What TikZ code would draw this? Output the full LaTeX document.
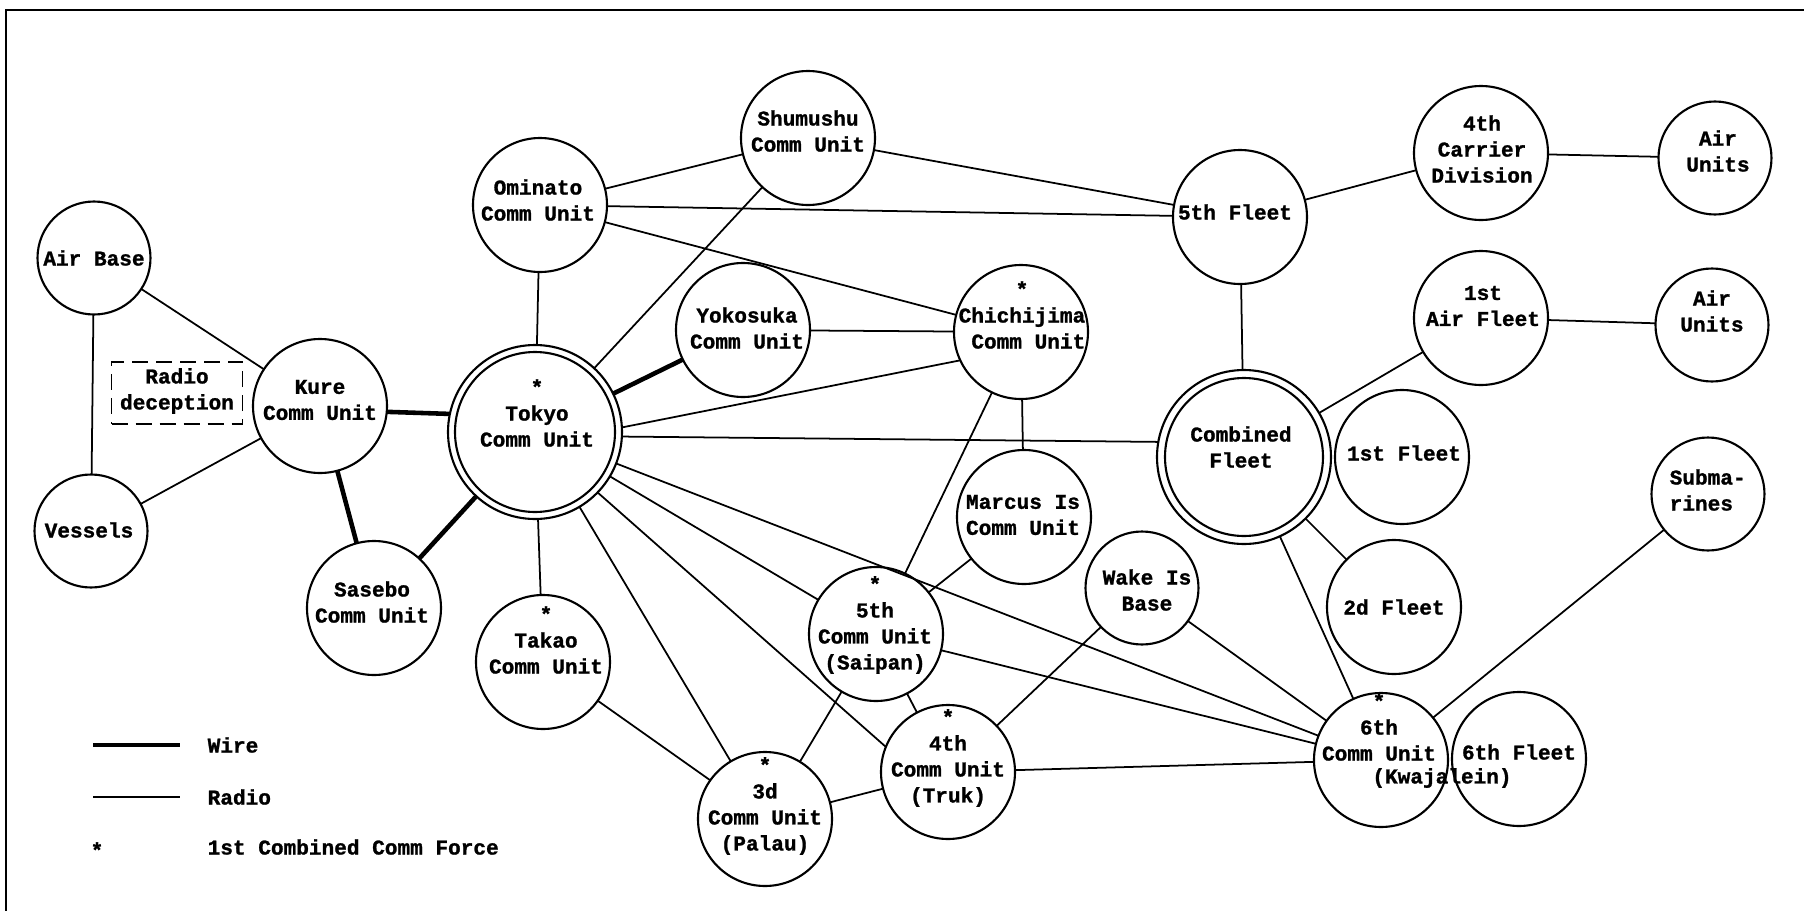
\documentclass[tikz,border=0pt]{standalone}
\usepackage{fontspec}
\setmainfont{Liberation Mono}[BoldFeatures={FakeBold=1.2}]
\begin{document}
\begin{tikzpicture}[x=0.1mm,y=-0.1mm,
  unit/.style={circle,draw,line width=0.6pt,inner sep=0pt,outer sep=0pt,minimum size=13.4mm},
  small/.style={unit,minimum size=11.3mm},
  big/.style={unit,minimum size=17.4mm},
  txt/.style={font=\fontsize{6}{7.4}\selectfont\bfseries,align=center,inner sep=0pt},
  radio/.style={line width=0.5pt},
  wire/.style={line width=1.3pt}]
\useasboundingbox (0,0) rectangle (1804,911);
% frame
\coordinate (f1) at (6,911);
\coordinate (f2) at (6,10);
\coordinate (f3) at (1804,10);
\draw[line width=0.6pt] (f1) -- (f2) -- (f3);

% circles
\node[small] (airbase) at (94,258) {};
\node[small] (vessels) at (91,531) {};
\node[draw,dashed,dash pattern=on 1.6mm off 0.8mm,line width=0.5pt,minimum width=13.1mm,minimum height=6.2mm,inner sep=0pt] (radiobox) at (177,393) {};
\node[unit] (kure) at (320,406) {};
\node[unit] (sasebo) at (374,608) {};
\node[big] (tokyo) at (535,432) {};
\draw[line width=0.6pt] (tokyo.center) circle[radius=80];
\node[unit] (ominato) at (540,205) {};
\node[unit] (shumushu) at (808,138) {};
\node[unit] (yokosuka) at (743,330) {};
\node[unit] (takao) at (543,662) {};
\node[unit] (chichi) at (1021,332) {};
\node[unit] (marcus) at (1024,517) {};
\node[unit] (saipan) at (876,634) {};
\node[unit] (truk) at (948,772) {};
\node[unit] (palau) at (765,819) {};
\node[small] (wake) at (1142,588) {};
\node[unit] (fifthfleet) at (1240,217) {};
\node[big] (cf) at (1244,457) {};
\draw[line width=0.6pt] (cf.center) circle[radius=79];
\node[unit] (carrier) at (1481,153) {};
\node[small] (airunitsa) at (1715,158) {};
\node[unit] (airfleet) at (1481,318) {};
\node[small] (airunitsb) at (1712,325) {};
\node[unit] (firstfleet) at (1402,457) {};
\node[unit] (secondfleet) at (1394,607) {};
\node[small] (subs) at (1708,494) {};
\node[unit] (kwaj) at (1381,760) {};
\node[unit] (sixthfleet) at (1519,759) {};

% texts
\node[txt] (tairbase) at (94,258) {Air Base};
\node[txt] (tvessels) at (89,530) {Vessels};
\node[txt] (tradio) at (177,391) {Radio\\deception};
\node[txt] (tkure) at (320,400) {Kure\\Comm Unit};
\node[txt] (tsasebo) at (372,602) {Sasebo\\Comm Unit};
\node[txt] (ttokyo) at (537,413) {*\\Tokyo\\Comm Unit};
\node[txt] (tominato) at (538,200) {Ominato\\Comm Unit};
\node[txt] (tshumushu) at (808,131) {Shumushu\\Comm Unit};
\node[txt] (tyokosuka) at (747,328) {Yokosuka\\Comm Unit};
\node[txt] (ttakao) at (546,640) {*\\Takao\\Comm Unit};
\node[txt] (tchichi) at (1022,315) {*\\Chichijima\\\hphantom{C}Comm Unit};
\node[txt] (tmarcus) at (1023,515) {Marcus Is\\Comm Unit};
\node[txt] (twake) at (1147,590) {Wake Is\\Base};
\node[txt] (tfifthfleet) at (1235,212) {5th Fleet};
\node[txt] (tcf) at (1241,447) {Combined\\Fleet};
\node[txt] (tcarrier) at (1482,149) {4th\\Carrier\\Division};
\node[txt] (tairunitsa) at (1718,151) {Air\\Units};
\node[txt] (tairfleet) at (1483,306) {1st\\Air Fleet};
\node[txt] (tairunitsb) at (1712,311) {Air\\Units};
\node[txt] (tfirstfleet) at (1404,453) {1st Fleet};
\node[txt] (tsecondfleet) at (1394,607) {2d Fleet};
\node[txt,align=left,anchor=west] (tsubs) at (1669,490) {Subma-\\rines};
\node[txt] (tkwaj) at (1379,727) {*\\6th\\Comm Unit};
\node[txt] (tkwajb) at (1442,778) {(Kwajalein)};
\node[txt] (tsixthfleet) at (1519,752) {6th Fleet};
\node[txt] (tsaipan) at (875,625) {*\\5th\\Comm Unit\\(Saipan)};
\node[txt] (ttruk) at (948,758) {*\\4th\\Comm Unit\\(Truk)};
\node[txt] (tpalau) at (765,806) {*\\3d\\Comm Unit\\(Palau)};

% wire connectors
\draw[wire] (kure.-5) -- (tokyo.168);
\draw[wire] (kure) -- (sasebo);
\draw[wire] (sasebo) -- (tokyo);
\draw[wire] (tokyo) -- (yokosuka);

% radio connectors
\draw[radio] (airbase) -- (kure);
\draw[radio] (airbase) -- (vessels);
\draw[radio] (vessels) -- (kure);
\draw[radio] (ominato) -- (tokyo);
\draw[radio] (ominato) -- (shumushu);
\draw[radio] (ominato) -- (fifthfleet);
\draw[radio] (ominato) -- (chichi);
\draw[radio] (shumushu) -- (tokyo);
\draw[radio] (shumushu) -- (fifthfleet);
\draw[radio] (yokosuka) -- (chichi);
\draw[radio] (tokyo.3) -- (chichi.205);
\draw[radio] (tokyo.-3) -- (cf.170);
\draw[radio] (chichi) -- (marcus);
\draw[radio] (chichi) -- (saipan);
\draw[radio] (marcus) -- (saipan);
\draw[radio] (tokyo) -- (takao);
\draw[radio] (tokyo) -- (palau);
\draw[radio] (tokyo.-44) -- (truk.158);
\draw[radio] (tokyo) -- (saipan);
\draw[radio] (tokyo) -- (kwaj);
\draw[radio] (takao) -- (palau);
\draw[radio] (saipan) -- (palau);
\draw[radio] (saipan) -- (truk);
\draw[radio] (saipan) -- (kwaj);
\draw[radio] (palau) -- (truk);
\draw[radio] (truk) -- (wake);
\draw[radio] (truk) -- (kwaj);
\draw[radio] (wake) -- (kwaj);
\draw[radio] (cf) -- (fifthfleet);
\draw[radio] (cf) -- (airfleet);
\draw[radio] (cf) -- (secondfleet);
\draw[radio] (cf) -- (kwaj);
\draw[radio] (fifthfleet) -- (carrier);
\draw[radio] (carrier) -- (airunitsa);
\draw[radio] (airfleet) -- (airunitsb);
\draw[radio] (subs) -- (kwaj);

% legend
\coordinate (wa) at (93,745);
\coordinate (wb) at (180,745);
\draw[wire] (wa) -- (wb);
\node[txt,anchor=west] (lwire) at (207,745) {Wire};
\coordinate (ra) at (93,797);
\coordinate (rb) at (180,797);
\draw[radio] (ra) -- (rb);
\node[txt,anchor=west] (lradio) at (207,797) {Radio};
\node[txt] (lstar) at (97,850) {*};
\node[txt,anchor=west] (lforce) at (207,847) {1st Combined Comm Force};
\end{tikzpicture}
\end{document}
